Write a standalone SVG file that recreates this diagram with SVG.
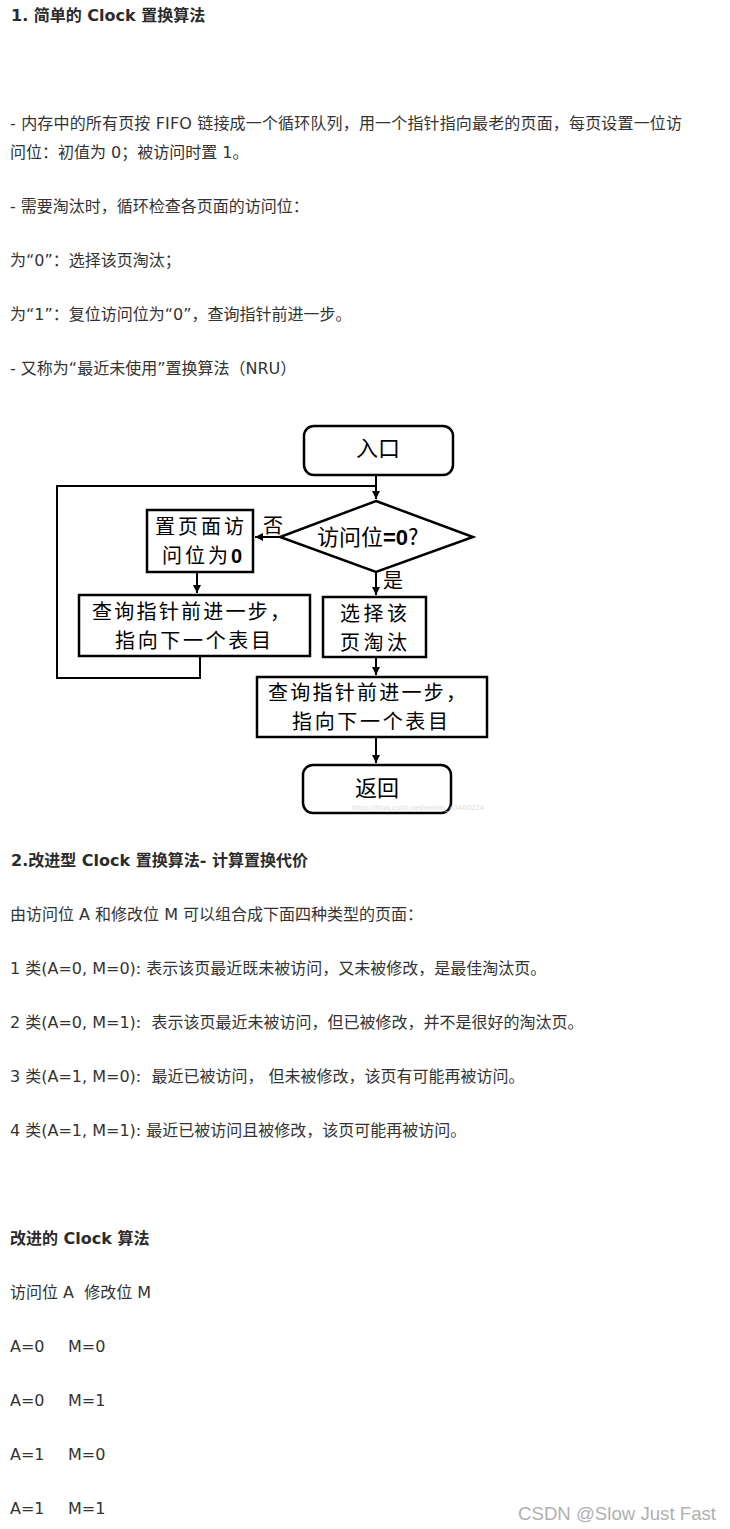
<svg xmlns="http://www.w3.org/2000/svg" width="730" height="1529" viewBox="0 0 730 1529">
<defs>
<style>
.body{font-family:"DejaVu Sans","Noto Sans CJK SC",sans-serif;font-size:16px;fill:#333}
.hd{font-family:"DejaVu Sans","Noto Sans CJK SC",sans-serif;font-size:16px;font-weight:bold;fill:#2b2b2b}
.fc{font-family:"Noto Sans CJK SC",sans-serif;font-size:22px;fill:#000}
.fc2{font-family:"Noto Sans CJK SC",sans-serif;font-size:20px;fill:#000}
.lbl{font-family:"Noto Sans CJK SC",sans-serif;font-size:20px;fill:#000}
.b0{font-family:"Liberation Sans",Arial,sans-serif;font-weight:bold}
.box{fill:#fff;stroke:#000;stroke-width:2.5}
.con{fill:none;stroke:#000;stroke-width:2}
.wm{font-family:"Liberation Sans",Arial,sans-serif;font-size:19px;fill:#b0b0b0}
.wm2{font-family:"Liberation Sans",Arial,sans-serif;font-size:8px;fill:#dedede}
</style>
<marker id="arr" viewBox="0 0 10 10" refX="10" refY="5" markerWidth="4" markerHeight="4" orient="auto" markerUnits="strokeWidth">
<path d="M0,0 L10,5 L0,10 z" fill="#000"/>
</marker>
</defs>
<rect width="730" height="1529" fill="#fff"/>

<g id="text-section1">
<text class="hd" x="11" y="21">1. 简单的 Clock 置换算法</text>
<text class="body" x="10" y="129" textLength="672" lengthAdjust="spacing">- 内存中的所有页按 FIFO 链接成一个循环队列，用一个指针指向最老的页面，每页设置一位访</text>
<text class="body" x="10" y="158">问位：初值为 0；被访问时置 1。</text>
<text class="body" x="10" y="212">- 需要淘汰时，循环检查各页面的访问位：</text>
<text class="body" x="10" y="266">为“0”：选择该页淘汰；</text>
<text class="body" x="10" y="320">为“1”：复位访问位为“0”，查询指针前进一步。</text>
<text class="body" x="10" y="374">- 又称为“最近未使用”置换算法（NRU）</text>
</g>

<g id="connectors">
<path class="con" d="M376,475 V499" marker-end="url(#arr)"/>
<path class="con" d="M200,656 V678 H57 V486 H376"/>
<path class="con" d="M280,537 H255" marker-end="url(#arr)"/>
<path class="con" d="M197,572 V593" marker-end="url(#arr)"/>
<path class="con" d="M376,572 V595" marker-end="url(#arr)"/>
<path class="con" d="M376,657 V675" marker-end="url(#arr)"/>
<path class="con" d="M376,737 V763" marker-end="url(#arr)"/>
<text class="lbl" x="263" y="533">否</text>
<text class="lbl" x="383" y="588">是</text>
</g>

<g id="node-entry">
<rect class="box" x="304" y="426" width="149" height="49" rx="10"/>
<text class="fc" x="378" y="456" text-anchor="middle">入口</text>
</g>

<g id="node-decision">
<polygon class="box" points="376,501 473,537 376,572 280,537"/>
<text class="fc" x="317" y="545">访问位<tspan class="b0">=0</tspan>?</text>
</g>

<g id="node-reset">
<rect class="box" x="147" y="510" width="106" height="62"/>
<text class="fc2" x="155" y="534" textLength="89" lengthAdjust="spacing">置页面访</text>
<text class="fc2" x="162" y="563" textLength="80" lengthAdjust="spacing">问位为<tspan class="b0">0</tspan></text>
</g>

<g id="node-advance-left">
<rect class="box" x="79" y="595" width="231" height="61"/>
<text class="fc2" x="92" y="619" textLength="198" lengthAdjust="spacing">查询指针前进一步，</text>
<text class="fc2" x="115" y="648" textLength="156" lengthAdjust="spacing">指向下一个表目</text>
</g>

<g id="node-select">
<rect class="box" x="323" y="597" width="103" height="60"/>
<text class="fc2" x="340" y="621" textLength="67" lengthAdjust="spacing">选择该</text>
<text class="fc2" x="340" y="650" textLength="67" lengthAdjust="spacing">页淘汰</text>
</g>

<g id="node-advance-right">
<rect class="box" x="257" y="677" width="230" height="60"/>
<text class="fc2" x="268" y="700" textLength="198" lengthAdjust="spacing">查询指针前进一步，</text>
<text class="fc2" x="292" y="729" textLength="156" lengthAdjust="spacing">指向下一个表目</text>
</g>

<g id="node-return">
<rect class="box" x="303" y="765" width="148" height="48" rx="10"/>
<text class="fc" x="377" y="796" text-anchor="middle">返回</text>
<text class="wm2" x="352" y="810" textLength="132" lengthAdjust="spacingAndGlyphs">https://blog.csdn.net/weixin_43460224</text>
</g>

<g id="text-section2">
<text class="hd" x="11" y="866">2.改进型 Clock 置换算法- 计算置换代价</text>
<text class="body" x="10" y="920">由访问位 A 和修改位 M 可以组合成下面四种类型的页面：</text>
<text class="body" x="10" y="974">1 类(A=0, M=0): 表示该页最近既未被访问，又未被修改，是最佳淘汰页。</text>
<text class="body" x="10" y="1028">2 类(A=0, M=1): &#160;表示该页最近未被访问，但已被修改，并不是很好的淘汰页。</text>
<text class="body" x="10" y="1082">3 类(A=1, M=0): &#160;最近已被访问， 但未被修改，该页有可能再被访问。</text>
<text class="body" x="10" y="1136">4 类(A=1, M=1): 最近已被访问且被修改，该页可能再被访问。</text>
</g>

<g id="text-section3">
<text class="hd" x="10" y="1244">改进的 Clock 算法</text>
<text class="body" x="10" y="1298">访问位 A &#160;修改位 M</text>
<text class="body" x="10" y="1352">A=0<tspan x="68">M=0</tspan></text>
<text class="body" x="10" y="1406">A=0<tspan x="68">M=1</tspan></text>
<text class="body" x="10" y="1460">A=1<tspan x="68">M=0</tspan></text>
<text class="body" x="10" y="1514">A=1<tspan x="68">M=1</tspan></text>
<text class="wm" x="518" y="1520" textLength="198" lengthAdjust="spacingAndGlyphs">CSDN @Slow Just Fast</text>
</g>
</svg>
